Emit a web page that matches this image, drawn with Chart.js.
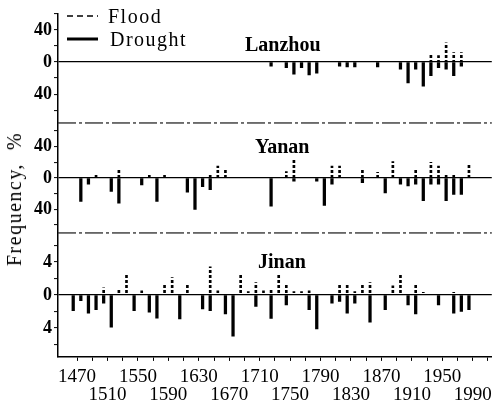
<!DOCTYPE html>
<html>
<head>
<meta charset="utf-8">
<script src="https://cdn.jsdelivr.net/npm/chart.js@4.4.0/dist/chart.umd.min.js"></script>
<style>
body { margin: 0; background: #fff; }
#wrap { position: relative; width: 495px; height: 414px; font-family: "Liberation Serif", "DejaVu Serif", serif; color: #000; }
#wrap canvas { position: absolute; left: 0; top: 0; }
.txt { position: absolute; white-space: nowrap; line-height: 20px; font-size: 20px; }
.title { font-weight: bold; }
.leg { letter-spacing: 1.5px; }
#ytitle { left: 14px; top: 199px; transform: translate(-50%, -50%) rotate(-90deg); letter-spacing: 1.5px; }
svg { position: absolute; left: 0; top: 0; }
</style>
</head>
<body>
<div id="wrap">
  <canvas id="myChart" width="495" height="414"></canvas>
  <svg width="120" height="50">
    <line x1="67" y1="16" x2="98" y2="16" stroke="#000" stroke-width="1.6" stroke-dasharray="6,4"/>
    <line x1="67" y1="39" x2="98" y2="39" stroke="#000" stroke-width="3"/>
  </svg>
  <div class="txt leg" style="left:108px; top:6px;">Flood</div>
  <div class="txt leg" style="left:110px; top:29px;">Drought</div>
  <div class="txt title" style="left:245px; top:34px;">Lanzhou</div>
  <div class="txt title" style="left:255px; top:136px;">Yanan</div>
  <div class="txt title" style="left:258px; top:251px;">Jinan</div>
  <div class="txt" id="ytitle">Frequency,&nbsp; %</div>
</div>
<script>
// decades (bars sit in the middle of each decade)
var lanzhouYears   = [1720,1740,1750,1760,1770,1780,1810,1820,1830,1860,1890,1900,1910,1920,1930,1940,1950,1960,1970];
var lanzhouFlood   = [0,0,0,0,0,0,0,0,0,0,0,0,0,0,11,8,24,12,12];
var lanzhouDrought = [5,7,15,7,16,14,5,6,6,6,9,26,9,30,17,7,9,17,5];

var yananYears   = [1470,1480,1490,1510,1520,1550,1560,1570,1580,1610,1620,1630,1640,1650,1660,
                    1720,1740,1750,1780,1790,1800,1810,1840,1860,1870,1880,1890,1900,1910,1920,1930,1940,1950,1960,1970,1980];
var yananFlood   = [0,0,4,0,12,0,4,0,4,0,0,0,4,15,12,
                    0,8,25,0,0,15,15,11,7,0,21,0,0,12,0,20,15,4,5,0,17];
var yananDrought = [30,8,0,17,32,9,0,30,0,18,40,11,15,0,0,
                    36,0,4,4,35,8,0,6,0,19,0,8,10,8,29,8,8,29,21,21,0];

var jinanYears   = [1460,1470,1480,1490,1500,1510,1520,1530,1540,1550,1560,1570,1580,1590,1600,1610,1630,1640,1650,1660,1670,1680,1690,
                    1700,1710,1720,1730,1740,1750,1760,1770,1780,1800,1810,1820,1830,1840,1850,1870,1880,1890,1900,1910,1920,1940,1960,1970,1980];
var jinanFlood   = [0,0,0,0,0.85,0,0.6,2.4,0,0.5,0,0,1.3,2.1,0,1.4,0,3.4,0.5,0,0,2.4,0.4,
                    1.5,0.5,0.8,2.4,1.4,0.4,0.4,0.5,0,0,1.2,1.2,0.4,1.2,1.5,0,1.1,2.4,0,1.4,0.3,0,0.3,0,0];
var jinanDrought = [1.9,0.7,2.2,1.8,1.0,3.9,0,0,1.9,0,2.1,2.8,0,0,2.9,0,1.7,1.9,0,2.3,5.0,0,0,
                    1.4,0,2.85,0,1.2,0,0,1.8,4.1,1.0,0.8,2.2,1.0,0,3.3,1.8,0,0,1.2,2.3,0,1.2,2.2,2.0,1.8];

// y ticks per panel (labels only at +-40 / +-4 and 0)
var pctTicks   = [-60,-40,-20,0,20,40,60];
var pctLabels  = [-40,0,40];
var jinanTicks = [-6,-4,-2,0,2,4,6];
var jinanLabels = [-4,0,4];

// x axis: tick marks every 20 years, labels every 40 on two rows
var xTickYears = [1470,1490,1510,1530,1550,1570,1590,1610,1630,1650,1670,1690,1710,1730,1750,1770,1790,1810,1830,1850,1870,1890,1910,1930,1950,1970,1990,2010];
var xLabelYears = [1470,1510,1550,1590,1630,1670,1710,1750,1790,1830,1870,1910,1950,1990];

function points(years, vals, sign) {
  var out = [];
  for (var i = 0; i < years.length; i++) {
    if (vals[i] > 0) out.push({x: years[i] + 5, y: sign * vals[i]});
  }
  return out;
}

// dashed fill for flood bars
var pc = document.createElement('canvas');
pc.width = 2; pc.height = 5;
var pctx = pc.getContext('2d');
pctx.fillStyle = '#000';
pctx.fillRect(0, 0, 2, 3);
var floodFill = pctx.createPattern(pc, 'repeat');

function floodSet(data, axis) {
  return {data: data, yAxisID: axis, backgroundColor: floodFill, barThickness: 2, grouped: false};
}
function droughtSet(data, axis) {
  return {data: data, yAxisID: axis, backgroundColor: '#000', barThickness: 2.6, grouped: false};
}

function yAxis(min, max, tickVals, shown, weight) {
  return {
    type: 'linear', position: 'left', stack: 'panels', stackWeight: weight,
    min: min, max: max,
    afterFit: function(s){ s.width = 58; },
    afterBuildTicks: function(s){ s.ticks = tickVals.map(function(v){ return {value: v}; }); },
    border: {color: '#000', width: 1.5},
    grid: {
      drawOnChartArea: true, tickLength: 4, tickColor: '#000', tickWidth: 1,
      color: function(c){ return c.tick && c.tick.value === 0 ? '#000' : 'rgba(0,0,0,0)'; },
      lineWidth: 1.2
    },
    ticks: {
      autoSkip: false, padding: 2, color: '#000',
      font: {size: 18, weight: 'bold'},
      callback: function(v){ return shown.indexOf(v) >= 0 ? String(Math.abs(v)) : ''; }
    }
  };
}

var separators = {
  id: 'separators',
  afterDraw: function(chart) {
    var ctx = chart.ctx, area = chart.chartArea;
    ctx.save();
    ctx.strokeStyle = '#444';
    ctx.lineWidth = 1;
    ctx.setLineDash([18, 3, 3, 3]);
    ['yL','yY','yJ'].forEach(function(id){
      var s = chart.scales[id];
      [s.top, s.bottom].forEach(function(y){
        if (y > area.top + 2 && y < area.bottom - 2) {
          ctx.beginPath(); ctx.moveTo(area.left, y); ctx.lineTo(area.right, y); ctx.stroke();
        }
      });
    });
    ctx.restore();
  }
};

Chart.defaults.font.family = "'Liberation Serif', 'DejaVu Serif', serif";
Chart.defaults.color = '#000';

var ctx = document.getElementById('myChart');
var myChart = new Chart(ctx, {
  type: 'bar',
  data: {
    datasets: [
      floodSet(points(lanzhouYears, lanzhouFlood, 1), 'yL'),
      droughtSet(points(lanzhouYears, lanzhouDrought, -1), 'yL'),
      floodSet(points(yananYears, yananFlood, 1), 'yY'),
      droughtSet(points(yananYears, yananDrought, -1), 'yY'),
      floodSet(points(jinanYears, jinanFlood, 1), 'yJ'),
      droughtSet(points(jinanYears, jinanDrought, -1), 'yJ')
    ]
  },
  options: {
    responsive: false,
    animation: false,
    layout: {padding: {top: 14, right: 2, bottom: 3, left: 0}},
    plugins: {legend: {display: false}, tooltip: {enabled: false}},
    scales: {
      x: {
        type: 'linear', min: 1445, max: 2015, offset: false,
        border: {color: '#000', width: 1.5},
        grid: {offset: false, drawOnChartArea: false, tickLength: 4, tickColor: '#000'},
        afterBuildTicks: function(s){ s.ticks = xTickYears.map(function(v){ return {value: v}; }); },
        ticks: {
          autoSkip: false, maxRotation: 0, padding: 7, color: '#000',
          font: {size: 19, lineHeight: 0.95},
          callback: function(v){
            var k = xLabelYears.indexOf(v);
            if (k < 0) return '';
            return k % 2 === 0 ? [String(v), ''] : ['', String(v)];
          }
        }
      },
      yJ: yAxis(-7.5, 7.5, jinanTicks, jinanLabels, 124),
      yY: yAxis(-70, 70, pctTicks, pctLabels, 110),
      yL: yAxis(-76, 60, pctTicks, pctLabels, 109)
    }
  },
  plugins: [separators]
});
</script>
</body>
</html>
